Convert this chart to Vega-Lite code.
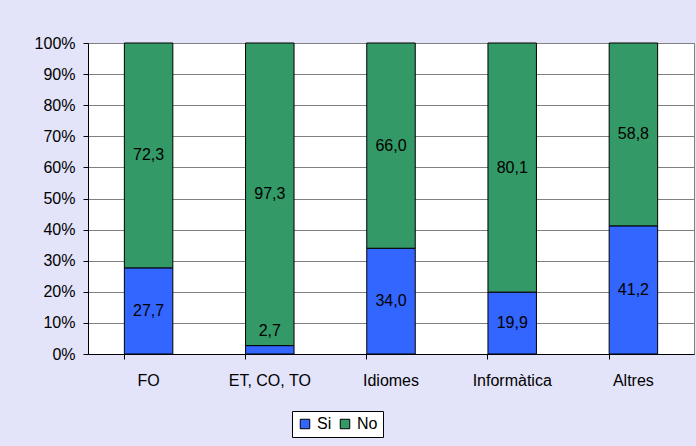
{
  "$schema": "https://vega.github.io/schema/vega-lite/v6.json",
  "width": 606,
  "height": 311,
  "autosize": {"type": "none"},
  "padding": {"left": 88, "top": 43, "right": 2, "bottom": 92},
  "background": "#e3e3f9",
  "config": {
    "font": "Liberation Sans",
    "locale": {"number": {"decimal": ",", "thousands": ".", "grouping": [3], "currency": ["", " €"]}},
    "view": {"stroke": "#808080", "strokeWidth": 1, "fill": "white"},
    "axisY": {
      "title": null,
      "format": ".0%",
      "labelFontSize": 16,
      "labelColor": "black",
      "labelPadding": 8,
      "labelOverlap": false,
      "domainColor": "black",
      "tickColor": "black",
      "tickSize": 5,
      "grid": true,
      "gridColor": "#808080",
      "gridWidth": 1
    }
  },
  "data": {
    "values": [
      {"cat": "FO", "series": "Si", "value": 27.7},
      {"cat": "FO", "series": "No", "value": 72.3},
      {"cat": "ET, CO, TO", "series": "Si", "value": 2.7},
      {"cat": "ET, CO, TO", "series": "No", "value": 97.3},
      {"cat": "Idiomes", "series": "Si", "value": 34.0},
      {"cat": "Idiomes", "series": "No", "value": 66.0},
      {"cat": "Informàtica", "series": "Si", "value": 19.9},
      {"cat": "Informàtica", "series": "No", "value": 80.1},
      {"cat": "Altres", "series": "Si", "value": 41.2},
      {"cat": "Altres", "series": "No", "value": 58.8}
    ]
  },
  "transform": [
    {"stack": "value", "groupby": ["cat"], "sort": [{"field": "series", "order": "descending"}], "as": ["v0", "v1"], "offset": "normalize"},
    {"calculate": "(datum.v0 + datum.v1) / 2", "as": "mid"}
  ],
  "encoding": {
    "x": {
      "field": "cat",
      "type": "nominal",
      "sort": ["FO", "ET, CO, TO", "Idiomes", "Informàtica", "Altres"],
      "scale": {"paddingInner": 0.6, "paddingOuter": 0.3},
      "axis": {
        "title": null,
        "labelAngle": 0,
        "labelFontSize": 16,
        "labelColor": "black",
        "labelPadding": 13,
        "domainColor": "black",
        "tickColor": "black",
        "tickSize": 5,
        "bandPosition": 0
      }
    }
  },
  "layer": [
    {
      "mark": {"type": "bar", "stroke": "black", "strokeWidth": 1},
      "encoding": {
        "y": {
          "field": "v0",
          "type": "quantitative",
          "scale": {"domain": [0, 1]},
          "axis": {"values": [0, 0.1, 0.2, 0.3, 0.4, 0.5, 0.6, 0.7, 0.8, 0.9, 1]}
        },
        "y2": {"field": "v1"},
        "color": {
          "field": "series",
          "type": "nominal",
          "scale": {"domain": ["Si", "No"], "range": ["#3366ff", "#339966"]},
          "legend": {
            "title": null,
            "orient": "none",
            "legendX": 204,
            "legendY": 368,
            "direction": "horizontal",
            "fillColor": "white",
            "strokeColor": "black",
            "padding": 5,
            "symbolType": "square",
            "symbolSize": 90,
            "symbolStrokeColor": "black",
            "symbolStrokeWidth": 1,
            "symbolOpacity": 1,
            "labelFontSize": 16,
            "labelColor": "black",
            "columnPadding": 5
          }
        }
      }
    },
    {
      "transform": [{"filter": "datum.value >= 5"}],
      "mark": {"type": "text", "fontSize": 16, "color": "black", "baseline": "middle"},
      "encoding": {
        "y": {"field": "mid", "type": "quantitative", "axis": {"values": [0, 0.1, 0.2, 0.3, 0.4, 0.5, 0.6, 0.7, 0.8, 0.9, 1]}},
        "text": {"field": "value", "type": "quantitative", "format": ".1f"}
      }
    },
    {
      "transform": [{"filter": "datum.value < 5"}],
      "mark": {"type": "text", "fontSize": 16, "color": "black", "baseline": "middle", "dy": -19},
      "encoding": {
        "y": {"field": "mid", "type": "quantitative", "axis": {"values": [0, 0.1, 0.2, 0.3, 0.4, 0.5, 0.6, 0.7, 0.8, 0.9, 1]}},
        "text": {"field": "value", "type": "quantitative", "format": ".1f"}
      }
    }
  ]
}
